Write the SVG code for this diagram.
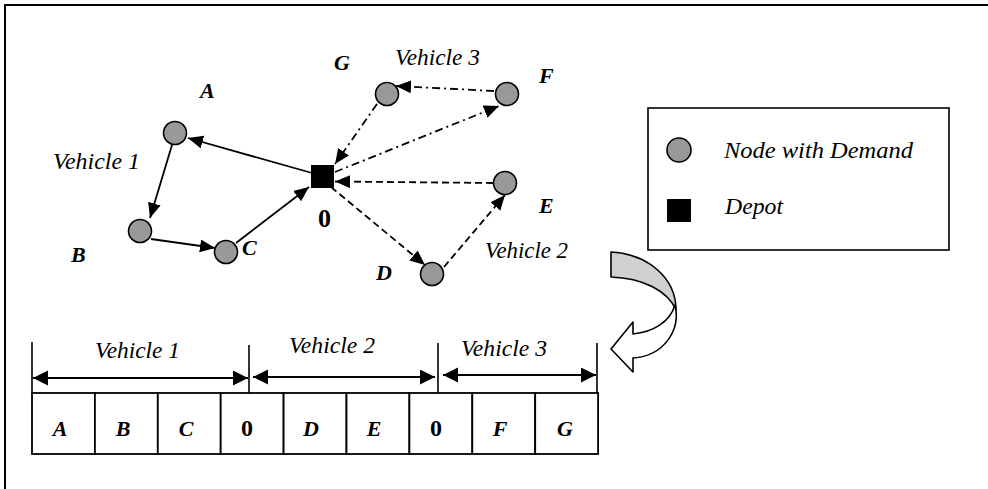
<svg xmlns="http://www.w3.org/2000/svg" width="988" height="489" viewBox="0 0 988 489">
<style>
.node{fill:#999999;stroke:#000;stroke-width:1.6}
.lbl{font-family:'Liberation Serif','Times New Roman','DejaVu Serif',serif;font-weight:700;font-style:italic;font-size:22px;fill:#000}
.zero{font-family:'Liberation Serif','Times New Roman','DejaVu Serif',serif;font-weight:700;font-size:24px;fill:#000}
.veh{font-family:'Liberation Serif','Times New Roman','DejaVu Serif',serif;font-style:italic;font-size:22.5px;fill:#000}
.solid{stroke:#000;stroke-width:1.8;fill:none;marker-end:url(#ah)}
.dash{stroke:#000;stroke-width:1.8;fill:none;stroke-dasharray:7 4;marker-end:url(#ah)}
.dashdot{stroke:#000;stroke-width:1.8;fill:none;stroke-dasharray:8 4 2 4;marker-end:url(#ah)}
.dim{stroke:#000;stroke-width:2;fill:none;marker-start:url(#dh);marker-end:url(#dh)}
.tick{stroke:#000;stroke-width:1.6}
.cell{fill:#fff;stroke:#000;stroke-width:1.8}
</style>
<defs>
<marker id="ah" markerUnits="userSpaceOnUse" markerWidth="16" markerHeight="14" refX="15" refY="6.5" orient="auto">
<path d="M0,0 L15,6.5 L0,13 Z" fill="#000"/>
</marker>
<marker id="dh" markerUnits="userSpaceOnUse" markerWidth="16" markerHeight="16" refX="15" refY="7.5" orient="auto-start-reverse">
<path d="M0,0 L15,7.5 L0,15 Z" fill="#000"/>
</marker>
</defs>
<rect width="988" height="489" fill="#fff"/>
<g id="frame">
<line x1="4" y1="5" x2="988" y2="5" stroke="#000" stroke-width="2.2"/>
<line x1="5" y1="4" x2="5" y2="489" stroke="#000" stroke-width="2"/>
</g>
<g id="connectors">
<line class="solid" x1="312" y1="173" x2="188" y2="138"/>
<line class="solid" x1="172" y1="145" x2="150" y2="218"/>
<line class="solid" x1="151" y1="239" x2="215" y2="248"/>
<line class="solid" x1="236" y1="243" x2="309" y2="187"/>
<line class="dash" x1="331" y1="187" x2="425" y2="265"/>
<line class="dash" x1="444" y1="267" x2="505" y2="195"/>
<line class="dash" x1="493" y1="183" x2="335" y2="181.5"/>
<line class="dashdot" x1="335" y1="172" x2="499" y2="106"/>
<line class="dashdot" x1="494" y1="91" x2="396" y2="86"/>
<line class="dashdot" x1="377" y1="104" x2="335" y2="164"/>
</g>
<g id="depot">
<rect x="311" y="165" width="23" height="23" fill="#000"/>
<text class="zero" x="318" y="227" style="font-size:26px">0</text>
</g>
<g id="nodeA"><circle class="node" cx="175" cy="133" r="11.5"/><text class="lbl" x="200" y="98">A</text></g>
<g id="nodeB"><circle class="node" cx="140" cy="231" r="11.5"/><text class="lbl" x="71" y="262">B</text></g>
<g id="nodeC"><circle class="node" cx="226" cy="252" r="11.5"/><text class="lbl" x="242" y="255">C</text></g>
<g id="nodeD"><circle class="node" cx="432" cy="274" r="11.5"/><text class="lbl" x="376" y="280">D</text></g>
<g id="nodeE"><circle class="node" cx="505" cy="183" r="11.5"/><text class="lbl" x="539" y="213">E</text></g>
<g id="nodeF"><circle class="node" cx="507" cy="94" r="11.5"/><text class="lbl" x="539" y="83">F</text></g>
<g id="nodeG"><circle class="node" cx="387" cy="94" r="11.5"/><text class="lbl" x="334" y="70">G</text></g>
<g id="route-labels">
<text class="veh" x="53" y="169" textLength="87" lengthAdjust="spacingAndGlyphs">Vehicle 1</text>
<text class="veh" x="395" y="65" textLength="85" lengthAdjust="spacingAndGlyphs">Vehicle 3</text>
<text class="veh" x="485" y="258" textLength="83" lengthAdjust="spacingAndGlyphs">Vehicle 2</text>
</g>
<g id="legend">
<rect x="648" y="108" width="301" height="142" fill="#fff" stroke="#000" stroke-width="1.6"/>
<circle class="node" cx="679" cy="150" r="12"/>
<text class="veh" x="724" y="158" textLength="189" lengthAdjust="spacingAndGlyphs">Node with Demand</text>
<rect x="667" y="199" width="24" height="23" fill="#000"/>
<text class="veh" x="725" y="214" textLength="58" lengthAdjust="spacingAndGlyphs">Depot</text>
</g>
<g id="curved-arrow">
<path d="M611,252 C648,254 676,278 676,310 C668,291 643,278 611,277 Z" fill="#d0d0d0" stroke="#000" stroke-width="1.6" stroke-linejoin="round"/>
<path d="M675,305 C681,330 664,356 633,358 L633,372 L611,349 L633,322 L633,334 C653,332 670,322 675,305 Z" fill="#fff" stroke="#000" stroke-width="1.6" stroke-linejoin="round"/>
</g>
<g id="sequence">
<line class="tick" x1="32" y1="342" x2="32" y2="393"/>
<line class="tick" x1="249" y1="345" x2="249" y2="396"/>
<line class="tick" x1="438" y1="343" x2="438" y2="393"/>
<line class="tick" x1="597" y1="343" x2="597" y2="393"/>
<line class="dim" x1="33" y1="378" x2="248" y2="378"/>
<line class="dim" x1="253" y1="377" x2="435" y2="377"/>
<line class="dim" x1="443" y1="375" x2="596" y2="375"/>
<text class="veh" x="95" y="358" textLength="85" lengthAdjust="spacingAndGlyphs">Vehicle 1</text>
<text class="veh" x="289" y="353" textLength="86" lengthAdjust="spacingAndGlyphs">Vehicle 2</text>
<text class="veh" x="461" y="356" textLength="86" lengthAdjust="spacingAndGlyphs">Vehicle 3</text>
<rect class="cell" x="32" y="393" width="62.9" height="61"/>
<rect class="cell" x="94.9" y="393" width="62.9" height="61"/>
<rect class="cell" x="157.8" y="393" width="62.9" height="61"/>
<rect class="cell" x="220.7" y="393" width="62.9" height="61"/>
<rect class="cell" x="283.6" y="393" width="62.9" height="61"/>
<rect class="cell" x="346.5" y="393" width="62.9" height="61"/>
<rect class="cell" x="409.4" y="393" width="62.9" height="61"/>
<rect class="cell" x="472.3" y="393" width="62.9" height="61"/>
<rect class="cell" x="535.2" y="393" width="62.9" height="61"/>
<g text-anchor="middle">
<text class="lbl" x="60" y="436">A</text>
<text class="lbl" x="123" y="436">B</text>
<text class="lbl" x="186" y="436">C</text>
<text class="zero" x="247" y="436">0</text>
<text class="lbl" x="311" y="436">D</text>
<text class="lbl" x="374" y="436">E</text>
<text class="zero" x="436" y="436">0</text>
<text class="lbl" x="500" y="436">F</text>
<text class="lbl" x="565" y="436">G</text>
</g>
</g>
</svg>
